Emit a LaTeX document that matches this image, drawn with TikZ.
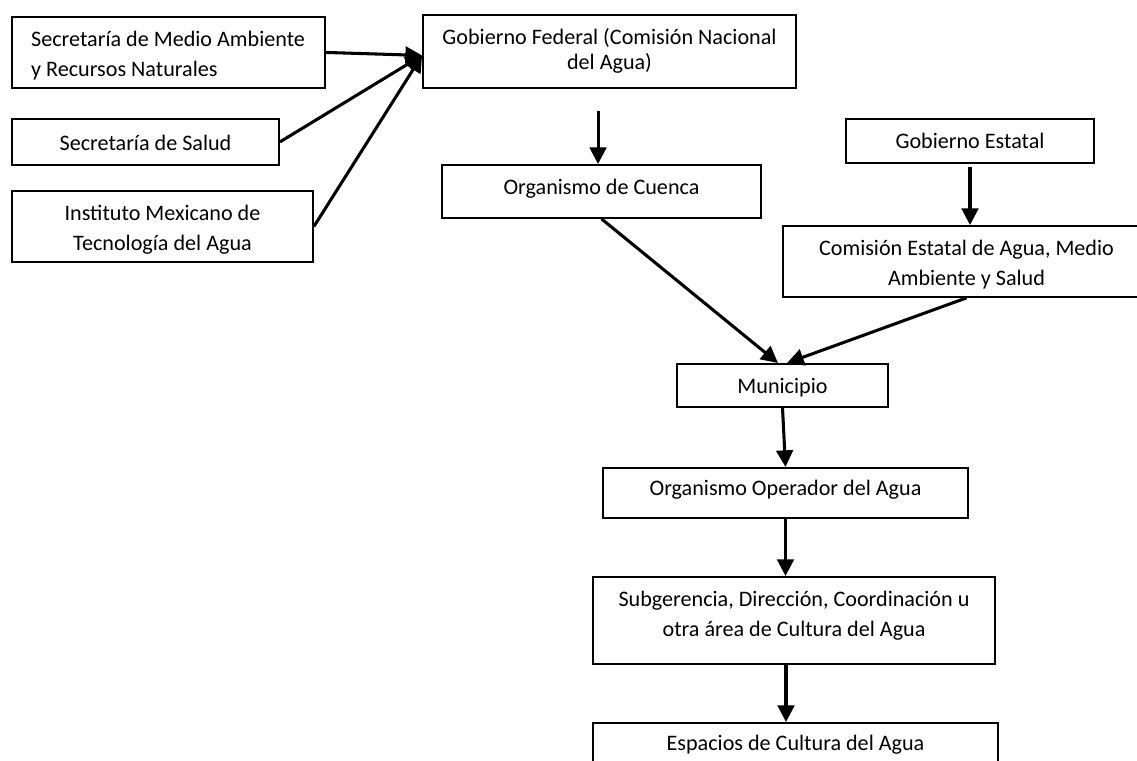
\documentclass[tikz,border=0pt]{standalone}
\usepackage{fontspec}
\setmainfont{Carlito}
\usetikzlibrary{arrows.meta}
\begin{document}
\begin{tikzpicture}[x=0.75pt,y=-0.75pt,
    orgbox/.style={draw,line width=1.4pt,inner sep=0pt,anchor=north,text height=22.5pt,
        font=\fontsize{16.6pt}{22.5pt}\selectfont},
    flecha/.style={line width=2.3pt,-{Triangle[length=12.5pt,width=12.5pt]}}]
                \useasboundingbox (0,0) rectangle (1137,760);
                \clip (0,0) rectangle (1137,760);

                \node[orgbox,minimum width=234.75pt,text depth=30.75pt] (semarnat) at (168.5,16) {\parbox[t]{206pt}{\raggedright Secretaría de Medio Ambiente\\y Recursos Naturales}};
                \node[orgbox,minimum width=200.25pt,text height=24pt,text depth=10.5pt] (salud) at (145.5,118) {Secretaría de Salud};
                \node[orgbox,minimum width=225.75pt,text depth=30.75pt] (imta) at (162.5,190) {\parbox[t]{200pt}{\centering Instituto Mexicano de\\Tecnología del Agua}};

                \node[orgbox,minimum width=279.75pt,text depth=32.25pt] (federal) at (609.5,14) {\parbox[t]{260pt}{\centering\fontsize{16.6pt}{18.75pt}\selectfont Gobierno Federal (Comisión Nacional\\del Agua)}};
                \node[orgbox,minimum width=239.25pt,text depth=17.25pt] (cuenca) at (601.5,164) {Organismo de Cuenca};

                \node[orgbox,minimum width=186pt,text depth=10.5pt] (estatal) at (970,118) {Gobierno Estatal};
                \node[orgbox,minimum width=275.25pt,text depth=30.75pt] (comision) at (966.5,225) {\parbox[t]{250pt}{\centering Comisión Estatal de Agua, Medio\\Ambiente y Salud}};

                \node[orgbox,minimum width=158.25pt,text depth=9.75pt] (municipio) at (782.5,363) {Municipio};
                \node[orgbox,minimum width=273.75pt,text height=21pt,text depth=16.5pt] (operador) at (785.5,467) {Organismo Operador del Agua};
                \node[orgbox,minimum width=301.5pt,text depth=42.75pt] (subgerencia) at (794,576) {\parbox[t]{290pt}{\centering Subgerencia, Dirección, Coordinación u\\otra área de Cultura del Agua}};
                \node[orgbox,minimum width=303.75pt,text height=21pt,text depth=16.5pt] (espacios) at (795.5,722) {Espacios de Cultura del Agua};

                \coordinate (fedin) at ([yshift=-3pt]federal.west);
                \coordinate (fedout) at ([xshift=-2.6pt,yshift=40pt]cuenca.north);
                \coordinate (cuencain) at ([xshift=-2.6pt]cuenca.north);
                \coordinate (estout) at ([yshift=-2.5pt]estatal.south);
                \coordinate (munin1) at ([xshift=-3.4pt]municipio.north);
                \coordinate (munin2) at ([xshift=3.4pt]municipio.north);
                \coordinate (subout) at ([xshift=-6pt]subgerencia.south);

                \draw[flecha] (semarnat.east) -- (fedin);
                \draw[flecha] (salud.east) -- (fedin);
                \draw[flecha] (imta.east) -- (fedin);

                \draw[flecha] (fedout) -- (cuencain);
                \draw[flecha] (estout) -- (estout |- comision.north);

                \draw[flecha] (cuenca.south) -- (munin1);
                \draw[flecha] (comision.south) -- (munin2);

                \draw[flecha] (municipio.south) -- (operador.north);
                \draw[flecha] (operador.south) -- (operador.south |- subgerencia.north);
                \draw[flecha] (subout) -- (subout |- espacios.north);
\end{tikzpicture}
\end{document}
